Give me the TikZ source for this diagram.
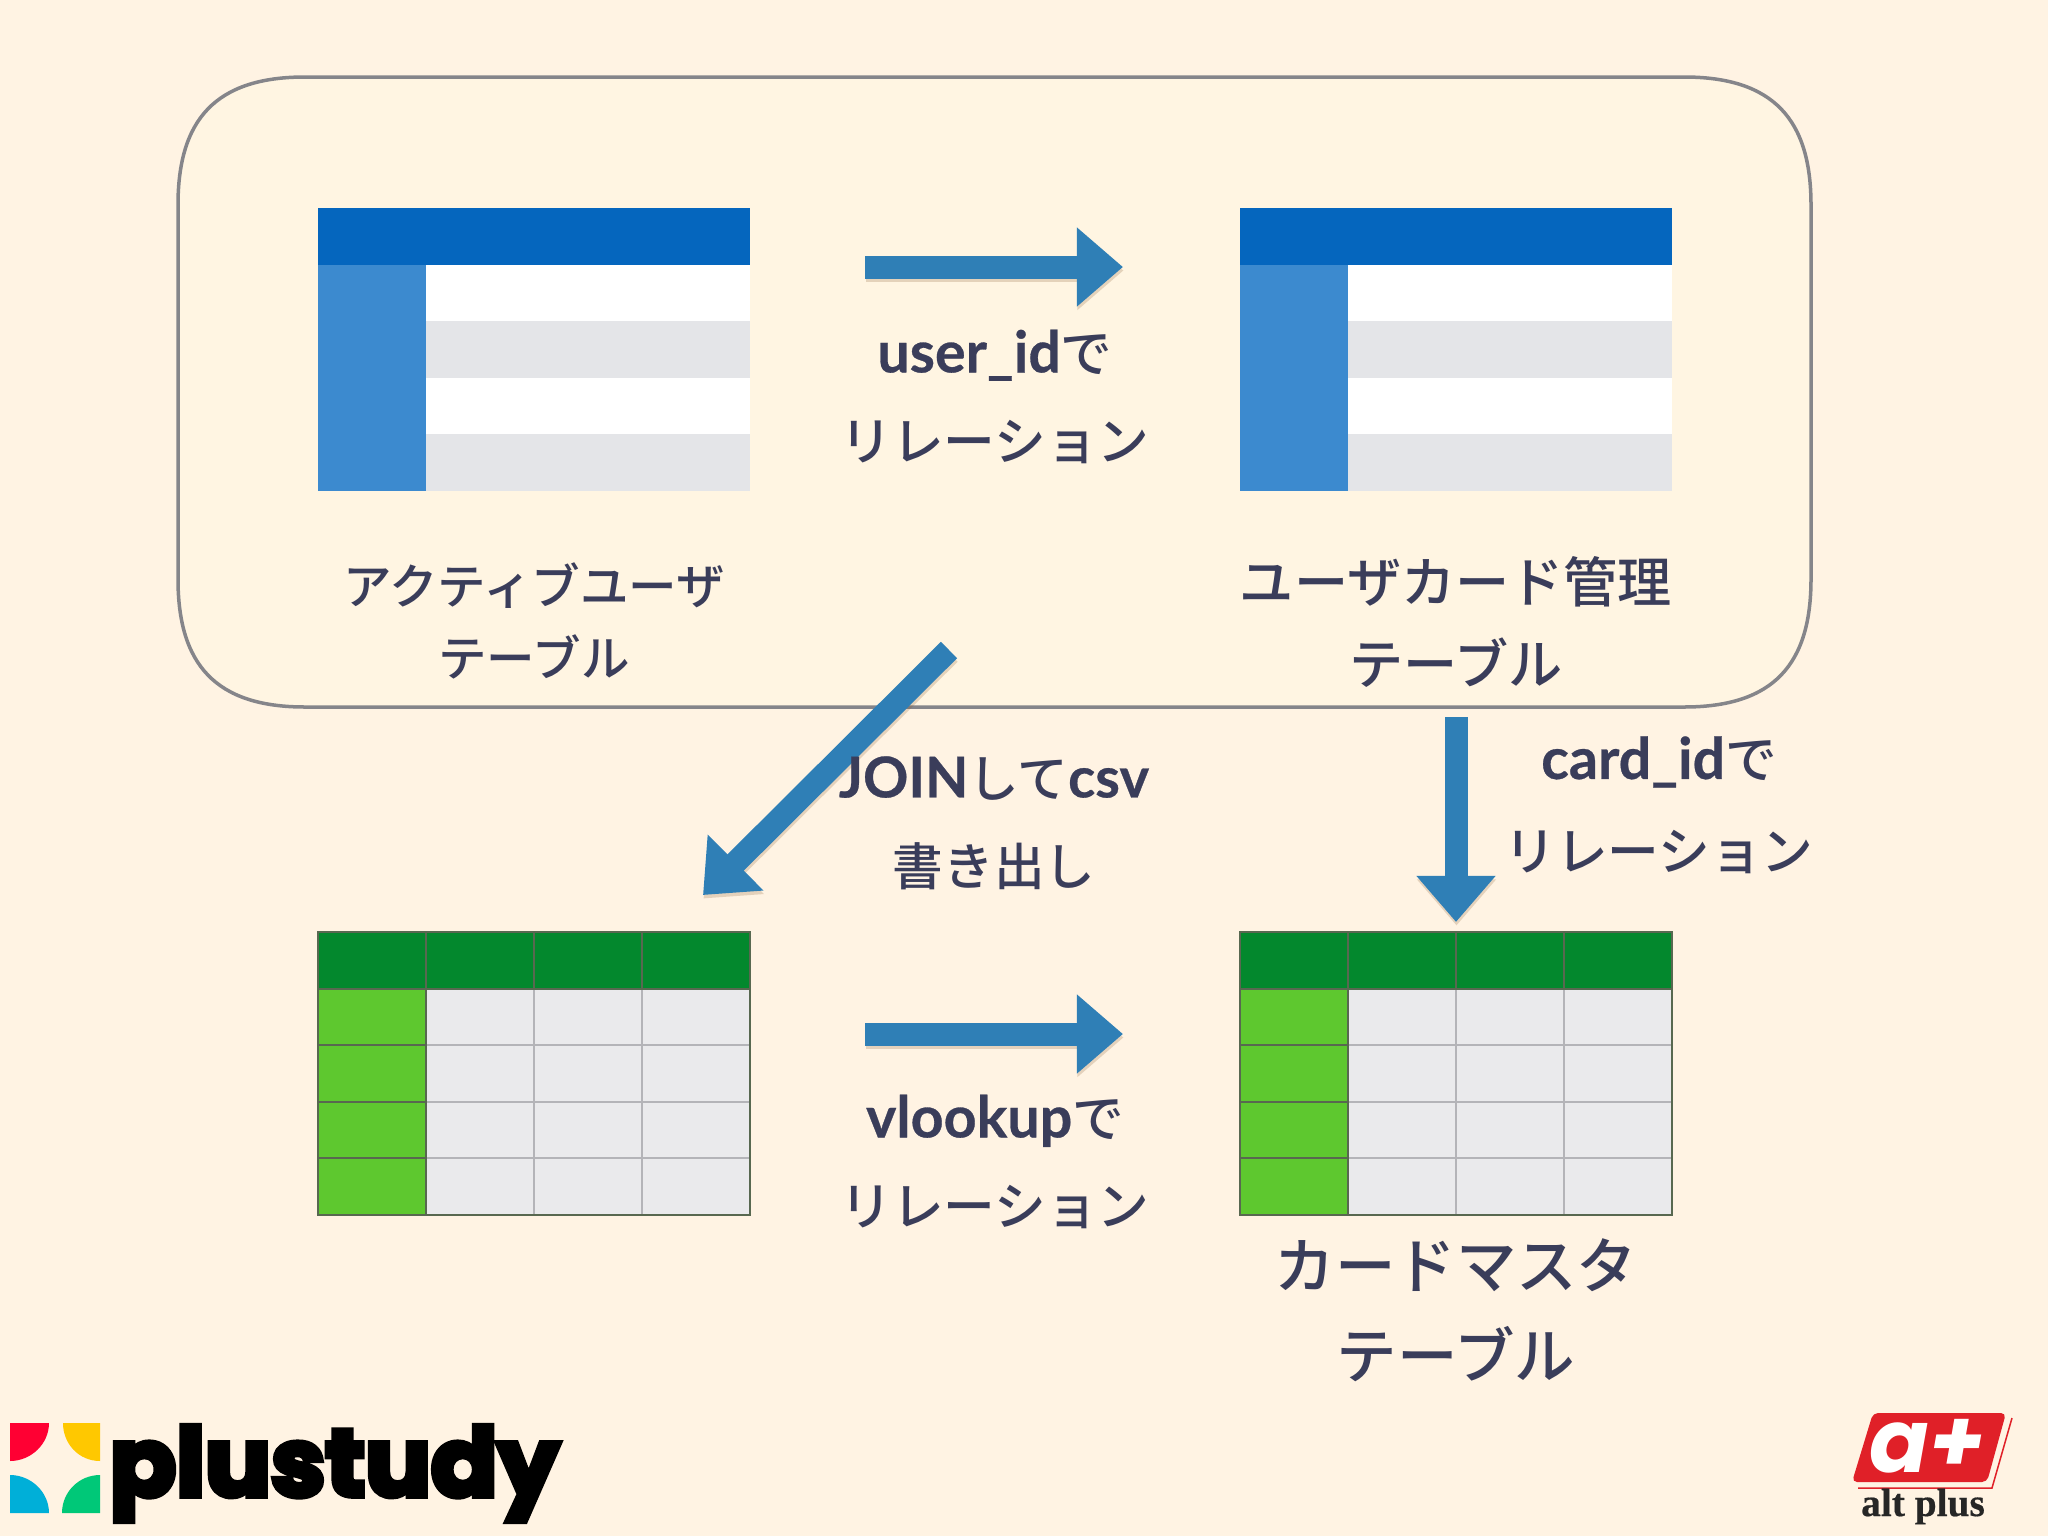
\documentclass[tikz,border=0pt]{standalone}
\usepackage{fontspec}
\setmainfont{Noto Sans CJK JP Medium}
\newfontfamily\latinfont[Scale=1.11,BoldFeatures={FakeBold=0.5}]{Lato}
\newfontfamily\plusfont[BoldFeatures={FakeBold=6,FakeStretch=1.03}]{Poppins}
\newfontfamily\altfont[BoldFeatures={FakeBold=1.5}]{Poppins}
\newfontfamily\altname[BoldFeatures={FakeBold=0.5}]{Liberation Serif}
\usetikzlibrary{arrows.meta}
\definecolor{pagebg}{RGB}{255,243,227}
\definecolor{groupbg}{RGB}{255,245,226}
\definecolor{groupline}{RGB}{133,133,138}
\definecolor{textcol}{RGB}{58,61,90}
\definecolor{arrowblue}{RGB}{47,127,182}
\definecolor{bluehead}{RGB}{5,102,190}
\definecolor{blueside}{RGB}{60,138,207}
\definecolor{rowgrey}{RGB}{228,229,232}
\definecolor{greenhead}{RGB}{3,136,45}
\definecolor{greenside}{RGB}{94,200,47}
\definecolor{cellgrey}{RGB}{234,234,236}
\definecolor{gridgrey}{RGB}{180,180,184}
\definecolor{gridgreen}{RGB}{88,104,80}
\definecolor{altred}{RGB}{224,32,40}
\definecolor{logored}{RGB}{255,0,51}
\definecolor{logoyellow}{RGB}{255,200,0}
\definecolor{logoblue}{RGB}{0,175,216}
\definecolor{logogreen}{RGB}{0,200,120}
\newcommand{\lat}[1]{{\latinfont\bfseries #1}}
\tikzset{
  x=0.01cm,y=-0.01cm,
  tablebox/.style={minimum width=4.32cm,minimum height=2.83cm,inner sep=0pt,outer sep=0pt},
  groupbox/.style={draw=groupline,fill=groupbg,line width=0.035cm},
  fatarrow/.style={draw=arrowblue,line width=0.23cm,-{Triangle[length=0.46cm,width=0.76cm]}},
  fatshadow/.style={draw=brown!70!black,opacity=0.22,line width=0.23cm,-{Triangle[length=0.46cm,width=0.76cm]},transform canvas={xshift=0.005cm,yshift=-0.035cm}},
  tablelabel/.style={text=textcol,align=center,inner sep=0pt},
}
\newcommand{\bluetable}[3]{
  \node[tablebox,fill=white] (#1) at (#2+216,#3+141.5) {};
  \begin{scope}[shift={(#2,#3)}]
    \fill[rowgrey] (108,113) rectangle (432,170);
    \fill[rowgrey] (108,226) rectangle (432,283);
    \fill[blueside] (0,57) rectangle (108,283);
    \fill[bluehead] (0,0) rectangle (432,57);
  \end{scope}
}
\newcommand{\greentable}[3]{
  \node[tablebox,fill=cellgrey] (#1) at (#2+216,#3+141.5) {};
  \begin{scope}[shift={(#2,#3)}]
    \fill[greenhead] (0,0) rectangle (432,57);
    \fill[greenside] (0,57) rectangle (108,283);
    \foreach \col in {216,324} \draw[gridgrey,line width=0.02cm] (\col,57) -- (\col,283);
    \foreach \row in {113,170,226} {
      \draw[gridgrey,line width=0.02cm] (108,\row) -- (432,\row);
      \draw[gridgreen,line width=0.02cm] (0,\row) -- (108,\row);
    }
    \foreach \col in {108,216,324} \draw[gridgreen,line width=0.02cm] (\col,0) -- (\col,57);
    \draw[gridgreen,line width=0.02cm] (108,57) -- (108,283);
    \draw[gridgreen,line width=0.02cm] (0,57) -- (432,57);
    \draw[gridgreen,line width=0.02cm] (0,0) rectangle (432,283);
  \end{scope}
}
\begin{document}
\begin{tikzpicture}
\useasboundingbox (0,0) rectangle (2048,1536);
\fill[pagebg] (0,0) rectangle (2048,1536);
\draw[groupbox] (178,205) .. controls (178,120) and (215,77) .. (305,77) -- (1684,77)
  .. controls (1774,77) and (1811,120) .. (1811,205) -- (1811,579)
  .. controls (1811,664) and (1774,707) .. (1684,707) -- (305,707)
  .. controls (215,707) and (178,664) .. (178,579) -- cycle;

\bluetable{activetable}{318}{208}
\bluetable{cardusetable}{1240}{208}
\greentable{jointable}{318}{932}
\greentable{mastertable}{1240}{932}

% arrow ends
\coordinate (userfrom) at (865,267);
\coordinate (userto) at (1123,267);
\coordinate (joinfrom) at (949,650);
\coordinate (jointo) at (703,895);
\coordinate (cardfrom) at (1456,717);
\coordinate (cardto) at (1456,922);
\coordinate (vlookfrom) at (865,1034);
\coordinate (vlookto) at (1123,1034);

\foreach \from/\to in {userfrom/userto,joinfrom/jointo,cardfrom/cardto,vlookfrom/vlookto} {
  \draw[fatshadow] (\from) -- (\to);
  \draw[fatarrow] (\from) -- (\to);
}

\node[tablelabel,font=\fontsize{13.8}{20.5}\selectfont] (activelabel) at (534,621) {アクティブユーザ\\テーブル};
\node[tablelabel,font=\fontsize{15.4}{23.3}\selectfont] (cardlabel) at (1456,622) {ユーザカード管理\\テーブル};
\node[tablelabel,font=\fontsize{17.2}{25.6}\selectfont] (masterlabel) at (1456,1310) {カードマスタ\\テーブル};
\node[tablelabel,font=\fontsize{14.7}{25.2}\selectfont] (userlabel) at (995,397) {\lat{user\_id}で\\リレーション};
\node[tablelabel,font=\fontsize{14.4}{25}\selectfont] (joinlabel) at (994,823) {\lat{JOIN}して\lat{csv}\\書き出し};
\node[tablelabel,font=\fontsize{14.7}{26}\selectfont] (cardidlabel) at (1659,805) {\lat{card\_id}で\\リレーション};
\node[tablelabel,font=\fontsize{14.7}{25.2}\selectfont] (vlooklabel) at (995,1162) {\lat{vlookup}で\\リレーション};

% plustudy logo
\fill[logored] (10,1423) -- (49,1423) .. controls (49,1444) and (31,1461) .. (10,1461) -- cycle;
\fill[logoyellow] (100,1423) -- (100,1461) .. controls (79,1461) and (63,1444) .. (63,1423) -- cycle;
\fill[logoblue] (10,1513) -- (10,1475) .. controls (31,1475) and (49,1492) .. (49,1513) -- cycle;
\fill[logogreen] (100,1513) -- (100,1475) .. controls (79,1475) and (62,1492) .. (62,1513) -- cycle;
\node[anchor=base west,inner sep=0pt,font=\plusfont\bfseries\fontsize{27}{27}\selectfont] (pluslogo) at (109,1496) {plustudy};

% alt plus logo
\draw[altred,line width=0.015cm] (2012,1418) -- (1992,1488) -- (1858,1488);
\fill[altred,rounded corners=0.05cm] (1873,1413) -- (2006,1413) -- (1987,1482) -- (1852,1482) -- cycle;
\node[text=white,inner sep=0pt,text height=0.4cm,text depth=0pt,font=\altfont\itshape\bfseries\fontsize{25}{25}\selectfont] (altmark) at (1927,1452) {a+};
\node[anchor=base,inner sep=0pt,text=black!85,text height=0.16cm,text depth=0pt,font=\altname\bfseries\fontsize{11.2}{11.2}\selectfont] (altname) at (1923,1516) {alt plus};
\end{tikzpicture}
\end{document}
